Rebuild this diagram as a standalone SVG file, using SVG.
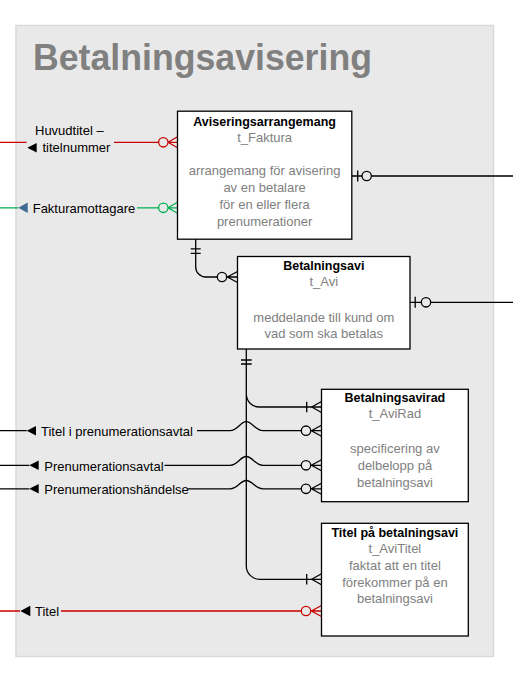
<svg xmlns="http://www.w3.org/2000/svg" width="513" height="679" viewBox="0 0 513 679">
<style>
text{font-family:"Liberation Sans",Arial,sans-serif;font-size:13px;}
.t{font-weight:bold;font-size:12.5px;fill:#000;text-anchor:middle;}
.d{fill:#808080;text-anchor:middle;}
.lab{fill:#000;}
.box{fill:#fff;stroke:#000;stroke-width:1.3;}
.ln{fill:none;stroke:#000;stroke-width:1.3;}
.red{fill:none;stroke:#c80000;stroke-width:1.3;}
.grn{fill:none;stroke:#00b050;stroke-width:1.3;}
.c{fill:#e9e9e9;stroke:#000;stroke-width:1.3;}
.cr{fill:#e9e9e9;stroke:#c80000;stroke-width:1.3;}
.cg{fill:#e9e9e9;stroke:#00b050;stroke-width:1.3;}
</style>
<rect x="16" y="25.5" width="477.5" height="631" fill="#e9e9e9" stroke="#d9d9d9" stroke-width="1.5"/>
<text x="33" y="70" style="font-size:37px;font-weight:bold;fill:#808080" textLength="339" lengthAdjust="spacingAndGlyphs">Betalningsavisering</text>

<g id="connectors">
  <!-- Huvudtitel -->
  <path class="red" d="M0,142.3 H26.5 M114,142.3 H177.5 M168,142.3 L177.5,136.8 M168,142.3 L177.5,147.8"/>
  <circle class="cr" cx="163.3" cy="142.3" r="4.7"/>
  <polygon points="27.3,147.8 36.7,143 36.7,152.6" fill="#000"/>
  <text class="lab" x="35" y="135">Huvudtitel –</text>
  <text class="lab" x="42.5" y="151.7">titelnummer</text>
  <!-- Fakturamottagare -->
  <path class="grn" d="M0,207.8 H18.3 M137,207.8 H177.5 M168,207.8 L177.5,202.3 M168,207.8 L177.5,213.3"/>
  <circle class="cg" cx="163.3" cy="207.8" r="4.7"/>
  <polygon points="18.3,207.8 27.7,202.6 27.7,213" fill="#3f6a91"/>
  <text class="lab" x="32.7" y="212.5">Fakturamottagare</text>
  <!-- Aviseringsarrangemang right -->
  <path class="ln" d="M352,176 H513 M357.7,170.5 V181.5"/>
  <circle class="c" cx="366.7" cy="176" r="4.7"/>
  <!-- Betalningsavi right -->
  <path class="ln" d="M410,302.3 H513 M415.2,296.8 V307.8"/>
  <circle class="c" cx="426" cy="302.3" r="4.7"/>
  <!-- Aviseringsarrangemang -> Betalningsavi -->
  <path class="ln" d="M195.7,239.3 V267 A10,10 0 0 0 205.7,277 H237.5 M190.7,248.8 H200.7 M190.7,253.3 H200.7 M227.3,277 L237.5,271.5 M227.3,277 L237.5,282.5"/>
  <circle class="c" cx="222" cy="277" r="4.7"/>
  <!-- Betalningsavi -> Betalningsavirad / Titel på betalningsavi -->
  <path class="ln" d="M246.3,349 V566 A13.3,13.3 0 0 0 259.6,579.3 H321.5 M246.3,394 A13,13 0 0 0 259.3,407 H321.5 M241,360 H251.7 M241,364 H251.7"/>
  <path class="ln" d="M306.7,401.8 V412.2 M311.7,407 L321.5,401.5 M311.7,407 L321.5,412.5"/>
  <path class="ln" d="M306.7,574.1 V584.5 M311.7,579.3 L321.5,573.8 M311.7,579.3 L321.5,584.8"/>
  <!-- Titel i prenumerationsavtal -->
  <path class="ln" d="M0,430.7 H26.7 M197,430.7 H230 C238,430.7 240,421.7 246.3,421.7 C252.5,421.7 255,430.7 263,430.7 H321.5 M311.3,430.7 L321.5,425.2 M311.3,430.7 L321.5,436.2"/>
  <circle class="c" cx="306" cy="430.7" r="4.7"/>
  <polygon points="26.7,430.7 36,425.9 36,435.5" fill="#000"/>
  <text class="lab" x="41" y="436">Titel i prenumerationsavtal</text>
  <!-- Prenumerationsavtal -->
  <path class="ln" d="M0,465.3 H29.3 M164.5,465.3 H230 C238,465.3 240,456.5 246.3,456.5 C252.5,456.5 255,465.3 263,465.3 H321.5 M311.3,465.3 L321.5,459.8 M311.3,465.3 L321.5,470.8"/>
  <circle class="c" cx="306" cy="465.3" r="4.7"/>
  <polygon points="29.3,465.3 38.7,460.5 38.7,470.1" fill="#000"/>
  <text class="lab" x="44.3" y="470.6">Prenumerationsavtal</text>
  <!-- Prenumerationshändelse -->
  <path class="ln" d="M0,488.8 H29.3 M187.5,488.8 H230 C238,488.8 240,480.5 246.3,480.5 C252.5,480.5 255,488.8 263,488.8 H321.5 M311.3,488.8 L321.5,483.3 M311.3,488.8 L321.5,494.3"/>
  <circle class="c" cx="306" cy="488.8" r="4.7"/>
  <polygon points="29.3,488.8 38.7,484 38.7,493.6" fill="#000"/>
  <text class="lab" x="44.3" y="494">Prenumerationshändelse</text>
  <!-- Titel -->
  <path class="red" d="M0,611 H20 M61,611 H321.5 M311.3,611 L321.5,605.5 M311.3,611 L321.5,616.5"/>
  <circle class="cr" cx="306" cy="611" r="4.7"/>
  <polygon points="20.3,611 30.3,605.8 30.3,616.2" fill="#000"/>
  <text class="lab" x="35" y="616">Titel</text>
</g>

<g id="aviseringsarrangemang">
  <rect class="box" x="177.5" y="111.2" width="174.3" height="128"/>
  <text class="t" x="264.6" y="125.7">Aviseringsarrangemang</text>
  <text class="d" x="264.6" y="141.7">t_Faktura</text>
  <text class="d" x="264.6" y="175.3">arrangemang för avisering</text>
  <text class="d" x="264.6" y="192.3">av en betalare</text>
  <text class="d" x="264.6" y="209.3">för en eller flera</text>
  <text class="d" x="264.6" y="226.3">prenumerationer</text>
</g>
<g id="betalningsavi">
  <rect class="box" x="237.5" y="256.5" width="172.5" height="92.5"/>
  <text class="t" x="323.8" y="269.7">Betalningsavi</text>
  <text class="d" x="323.8" y="286">t_Avi</text>
  <text class="d" x="323.8" y="321.7">meddelande till kund om</text>
  <text class="d" x="323.8" y="338">vad som ska betalas</text>
</g>
<g id="betalningsavirad">
  <rect class="box" x="321.5" y="389.3" width="146.8" height="112.4"/>
  <text class="t" x="394.9" y="401.7">Betalningsavirad</text>
  <text class="d" x="394.9" y="418.3">t_AviRad</text>
  <text class="d" x="394.9" y="453.3">specificering av</text>
  <text class="d" x="394.9" y="470">delbelopp på</text>
  <text class="d" x="394.9" y="487">betalningsavi</text>
</g>
<g id="titel-pa-betalningsavi">
  <rect class="box" x="321.5" y="523.3" width="146.8" height="112.7"/>
  <text class="t" x="394.9" y="537.3">Titel på betalningsavi</text>
  <text class="d" x="394.9" y="553.3">t_AviTitel</text>
  <text class="d" x="394.9" y="570">faktat att en titel</text>
  <text class="d" x="394.9" y="586.7">förekommer på en</text>
  <text class="d" x="394.9" y="603.3">betalningsavi</text>
</g>
</svg>
